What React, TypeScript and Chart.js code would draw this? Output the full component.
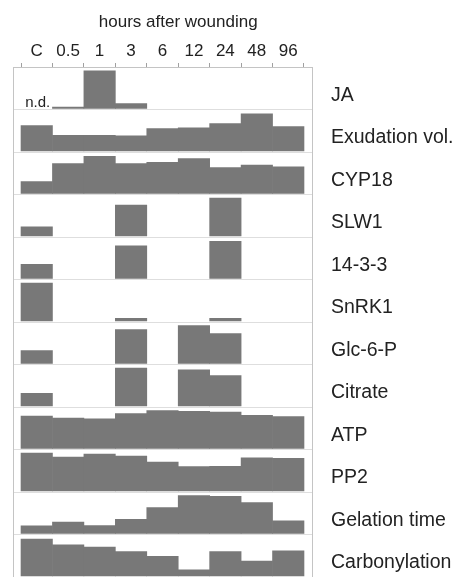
import React, { useEffect, useRef } from "react";
import { Chart, registerables } from "chart.js";

Chart.register(...registerables);

const categories = ["C", "0.5", "1", "3", "6", "12", "24", "48", "96"];
const xTitle = "hours after wounding";
const rowNames = [
  "JA",
  "Exudation vol.",
  "CYP18",
  "SLW1",
  "14-3-3",
  "SnRK1",
  "Glc-6-P",
  "Citrate",
  "ATP",
  "PP2",
  "Gelation time",
  "Carbonylation",
];

// relative values (% of row maximum); null = not shown
const ja = [null, 4, 99, 13, null, null, null, null, null];
const exudation = [67, 41, 41, 40, 59, 61, 72, 98, 64];
const cyp18 = [31, 79, 98, 79, 82, 92, 68, 75, 70];
const slw1 = [24, null, null, 81, null, null, 100, null, null];
const p1433 = [37, null, null, 86, null, null, 98, null, null];
const snrk1 = [100, null, null, 7, null, null, 7, null, null];
const glc6p = [34, null, null, 89, null, 100, 79, null, null];
const citrate = [33, null, null, 100, null, 95, 80, null, null];
const atp = [85, 80, 78, 92, 100, 98, 96, 87, 84];
const pp2 = [100, 89, 97, 92, 76, 64, 65, 87, 86];
const gelation = [20, 30, 21, 37, 68, 100, 98, 81, 33];
const carbonylation = [97, 82, 76, 64, 52, 16, 64, 39, 66];

const rows = [ja, exudation, cyp18, slw1, p1433, snrk1, glc6p, citrate, atp, pp2, gelation, carbonylation];

const nRows = rows.length;
const BAR_SCALE = 0.894; // fraction of a row used by a 100% bar
const BASE_GAP = 0.024;
const BAR_COLOR = "#787878";
const FONT = "'Liberation Sans', Arial, sans-serif";

const textPlugin = {
  id: "extraText",
  afterDatasetsDraw(chart: any) {
    const { ctx, scales } = chart;
    ctx.save();
    // n.d. annotation in the JA row
    const x = scales.x.getPixelForValue(0.5);
    const y = scales.y.getPixelForValue(nRows - 1 + 0.055);
    ctx.font = `15px ${FONT}`;
    ctx.fillStyle = "#222";
    ctx.textAlign = "center";
    ctx.textBaseline = "alphabetic";
    ctx.fillText("n.d.", x + 1, y);
    // axis title
    ctx.font = `17px ${FONT}`;
    ctx.fillText(xTitle, scales.x.getPixelForValue(5), 27);
    ctx.restore();
  },
};

export default function App() {
  const ref = useRef<HTMLCanvasElement | null>(null);

  useEffect(() => {
    if (!ref.current) return;
    const datasets = rows.map((vals, r) => {
      const base = nRows - 1 - r + BASE_GAP;
      const data: any[] = [];
      vals.forEach((v, i) => {
        if (v == null) return;
        data.push({ x: i + 0.5, y: [base, base + (v / 100) * BAR_SCALE] });
      });
      return {
        label: rowNames[r],
        data,
        backgroundColor: BAR_COLOR,
        borderWidth: 0,
        grouped: false,
        barPercentage: 1,
        categoryPercentage: 1,
      };
    });

    const chart = new Chart(ref.current, {
      type: "bar",
      data: { datasets },
      plugins: [textPlugin],
      options: {
        animation: false,
        responsive: true,
        maintainAspectRatio: false,
        layout: { padding: { left: 13, right: 0, top: 40.6, bottom: 0 } },
        plugins: { legend: { display: false }, tooltip: { enabled: false } },
        scales: {
          x: {
            type: "linear",
            position: "top",
            offset: false,
            min: -0.255,
            max: 9.255,
            afterBuildTicks: (scale: any) => {
              scale.ticks = categories.concat([""]).map((_, i) => ({ value: i }));
            },
            ticks: {
              autoSkip: false,
              maxRotation: 0,
              padding: 1,
              labelOffset: 15.7,
              color: "#222",
              font: { size: 17, family: FONT },
              callback: (value: any) => categories[Math.round(value)] ?? "",
            },
            grid: {
              display: true,
              offset: false,
              drawOnChartArea: false,
              drawTicks: true,
              tickLength: 4,
              color: "#a0a0a0",
            },
            border: { display: true, color: "#c4c4c4" },
          },
          y: {
            type: "linear",
            position: "left",
            min: 0,
            max: nRows,
            ticks: { display: false, stepSize: 1 },
            grid: { display: true, drawTicks: false, color: "#dedede" },
            border: { display: true, color: "#c4c4c4" },
          },
          y2: {
            type: "linear",
            position: "right",
            min: 0,
            max: nRows,
            afterBuildTicks: (scale: any) => {
              scale.ticks = rowNames.map((_, r) => ({ value: nRows - 1 - r + 0.5 }));
            },
            afterFit: (scale: any) => {
              scale.width = 144;
              scale.paddingTop = 0;
              scale.paddingBottom = 0;
            },
            ticks: {
              padding: 19,
              labelOffset: 7,
              color: "#222",
              font: { size: 19.5, family: FONT },
              callback: (value: any) => rowNames[nRows - 1 - Math.floor(value)] ?? "",
            },
            grid: { display: false, drawTicks: false },
            border: { display: true, color: "#c4c4c4" },
          },
        },
      } as any,
    });
    return () => chart.destroy();
  }, []);

  return (
    <div style={{ position: "fixed", left: 0, top: 0, width: 456, height: 577, background: "#fff" }}>
      <canvas ref={ref} />
    </div>
  );
}
